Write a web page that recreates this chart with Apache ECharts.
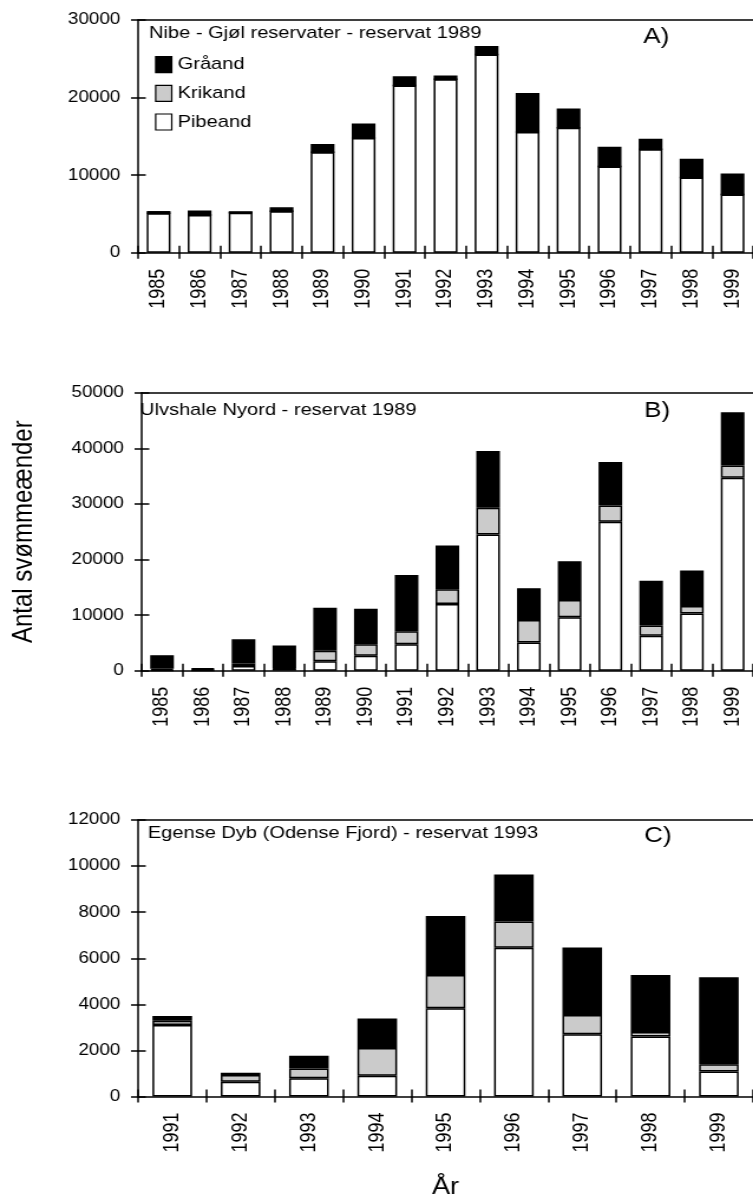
<!DOCTYPE html>
<html>
<head>
<meta charset="utf-8">
<script src="https://cdn.jsdelivr.net/npm/echarts@6/dist/echarts.min.js"></script>
<style>
  html, body { margin: 0; padding: 0; background: #fff; overflow: hidden; }
  #chart { width: 638px; height: 1203px; transform: scaleX(1.1803); transform-origin: 0 0; }
</style>
</head>
<body>
<div id="chart"></div>
<script>
// ---- data ----
const seriesNames = ['Pibeand', 'Krikand', 'Gråand'];
const legendOrder = ['Gråand', 'Krikand', 'Pibeand'];

const yearsAB = ['1985','1986','1987','1988','1989','1990','1991','1992','1993','1994','1995','1996','1997','1998','1999'];
const yearsC = ['1991','1992','1993','1994','1995','1996','1997','1998','1999'];

const aPibeand = [5100, 4850, 5150, 5350, 12950, 14800, 21550, 22350, 25550, 15550, 16100, 11100, 13350, 9700, 7500];
const aKrikand = [0, 0, 0, 0, 0, 0, 0, 0, 0, 0, 0, 0, 0, 0, 0];
const aGraand  = [270, 600, 200, 500, 1050, 1850, 1200, 500, 1100, 5050, 2500, 2550, 1350, 2400, 2700];

const bPibeand = [100, 100, 850, 400, 1700, 2700, 4750, 12000, 24500, 5050, 9600, 26800, 6300, 10300, 34700];
const bKrikand = [250, 180, 450, 100, 1900, 2050, 2350, 2650, 4800, 4050, 3100, 2900, 1850, 1350, 2200];
const bGraand  = [2450, 150, 4350, 4050, 7700, 6400, 10100, 7850, 10200, 5750, 7000, 7850, 8050, 6350, 9600];

const cPibeand = [3100, 640, 790, 900, 3830, 6460, 2700, 2600, 1090];
const cKrikand = [190, 290, 430, 1200, 1440, 1130, 840, 200, 310];
const cGraand  = [200, 100, 550, 1280, 2560, 2050, 2930, 2470, 3770];

const panelTitles = ['Nibe - Gjøl reservater - reservat 1989', 'Ulvshale Nyord - reservat 1989', 'Egense Dyb (Odense Fjord) - reservat 1993'];
const panelLetters = ['A)', 'B)', 'C)'];
const yMax = [30000, 50000, 12000];
const yStep = [10000, 10000, 2000];
const yTitle = 'Antal svømmeænder';
const xTitle = 'År';

// ---- chart ----
const FONT = "'Liberation Sans', Arial, sans-serif";
const colors = { 'Pibeand': '#ffffff', 'Krikand': '#cbcbcb', 'Gråand': '#000000' };
const panels = [
  { cats: yearsAB, data: [aPibeand, aKrikand, aGraand] },
  { cats: yearsAB, data: [bPibeand, bKrikand, bGraand] },
  { cats: yearsC,  data: [cPibeand, cKrikand, cGraand] }
];
const grids = [
  { left: 117, width: 526, top: 20,    height: 232.7 },
  { left: 117, width: 526, top: 392.7, height: 278 },
  { left: 117, width: 526, top: 820,   height: 276.5 }
];
const line = { color: '#000', width: 1.5 };

const xAxis = [], yAxis = [], series = [];
panels.forEach((p, g) => {
  xAxis.push({
    gridIndex: g, type: 'category', data: p.cats, position: 'bottom',
    axisLine: { show: true, lineStyle: line },
    axisTick: { show: true, inside: false, length: 6, interval: 0, lineStyle: line },
    axisLabel: { show: true, interval: 0, rotate: 90, fontSize: 18, margin: 16, color: '#000', fontFamily: FONT },
    name: g === 2 ? xTitle : '', nameLocation: 'middle', nameGap: 80,
    nameTextStyle: { fontSize: 23, color: '#000', fontFamily: FONT }
  });
  xAxis.push({
    gridIndex: g, type: 'category', data: p.cats, position: 'bottom',
    axisLine: { show: false },
    axisTick: { show: true, inside: true, length: 7, interval: 0, lineStyle: line },
    axisLabel: { show: false }
  });
  xAxis.push({
    gridIndex: g, type: 'category', data: p.cats, position: 'top',
    axisLine: { show: true, lineStyle: line },
    axisTick: { show: false }, axisLabel: { show: false }
  });
  yAxis.push({
    gridIndex: g, type: 'value', position: 'left', min: 0, max: yMax[g], interval: yStep[g],
    axisLine: { show: true, lineStyle: line },
    axisTick: { show: true, inside: false, length: 6, lineStyle: line },
    axisLabel: { show: true, fontSize: 16, margin: 15, color: '#000', fontFamily: FONT,
      formatter: function (v) { return String(v); } },
    splitLine: { show: false },
    name: g === 1 ? yTitle : '', nameLocation: 'middle', nameGap: 88,
    nameTextStyle: { fontSize: 24, color: '#000', fontFamily: FONT }
  });
  yAxis.push({
    gridIndex: g, type: 'value', position: 'left', min: 0, max: yMax[g], interval: yStep[g],
    axisLine: { show: false },
    axisTick: { show: true, inside: true, length: 6.5, lineStyle: line },
    axisLabel: { show: false }, splitLine: { show: false }
  });
  seriesNames.forEach((name, k) => {
    series.push({
      name: name, type: 'bar', stack: 'panel' + g,
      xAxisIndex: g * 3, yAxisIndex: g * 2,
      barWidth: '58%',
      itemStyle: { color: colors[name], borderColor: '#000', borderWidth: 1.5 },
      data: p.data[k]
    });
  });
});

const titles = [];
const titlePos = [[126.3, 25], [118.6, 401.5], [125.2, 825]];
const letterPos = [[545, 25.5], [545.8, 400], [545.8, 824.5]];
panelTitles.forEach((t, i) => {
  titles.push({ text: t, left: titlePos[i][0], top: titlePos[i][1], padding: 0,
    textStyle: { fontSize: 17, fontWeight: 'normal', color: '#000', fontFamily: FONT } });
  titles.push({ text: panelLetters[i], left: letterPos[i][0], top: letterPos[i][1], padding: 0,
    textStyle: { fontSize: 22, fontWeight: 'normal', color: '#000', fontFamily: FONT } });
});

const chart = echarts.init(document.getElementById('chart'), null, { renderer: 'canvas' });
chart.setOption({
  animation: false,
  backgroundColor: '#fff',
  textStyle: { fontFamily: FONT },
  title: titles,
  grid: grids,
  legend: {
    data: legendOrder, orient: 'vertical', left: 126.3, top: 51,
    itemWidth: 13.6, itemHeight: 16, itemGap: 11.5,
    icon: 'rect',
    itemStyle: { borderColor: '#000', borderWidth: 1.2 },
    textStyle: { fontSize: 17, color: '#000', fontFamily: FONT, lineHeight: 16 },
    selectedMode: false
  },
  xAxis: xAxis,
  yAxis: yAxis,
  series: series
});
</script>
</body>
</html>
